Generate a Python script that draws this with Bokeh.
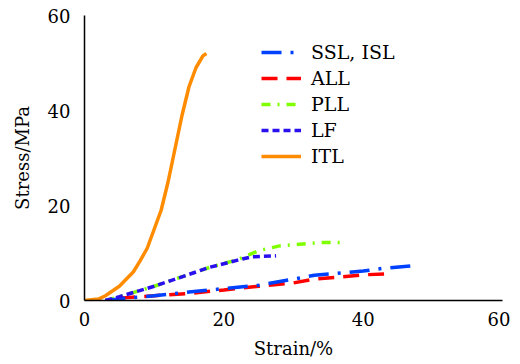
from bokeh.plotting import figure
from bokeh.models import Legend, LegendItem, Range1d, FixedTicker
from bokeh.embed import file_html
from bokeh.resources import INLINE

# Data (strain %, stress MPa)
ssl_x = [3, 6, 10, 15, 20, 25, 30, 33, 37, 40, 43, 47]
ssl_y = [0, 0.5, 1.0, 1.8, 2.5, 3.2, 4.5, 5.3, 5.8, 6.2, 6.8, 7.3]

all_x = [5, 10, 15, 20, 25, 30, 33, 37, 40, 43]
all_y = [0.5, 1.0, 1.5, 2.2, 3.0, 3.7, 4.5, 5.0, 5.4, 5.6]

pll_x = [3, 5, 10, 15, 18, 22, 25, 28, 32, 34, 37]
pll_y = [0, 0.8, 3.0, 5.5, 7.0, 8.6, 10.5, 11.5, 12.0, 12.2, 12.2]

lf_x = [3, 5, 10, 15, 18, 22, 24, 27.5]
lf_y = [0, 0.8, 3.0, 5.5, 7.0, 8.5, 9.2, 9.4]

itl_x = [0, 2, 3, 5, 7, 8, 9, 10, 11, 12, 13, 14, 15, 16, 17, 17.5]
itl_y = [0, 0.3, 1.0, 3.0, 6.0, 8.4, 11, 15, 19, 25, 32, 39, 45, 49, 51.5, 52]

x_ticks = [0, 20, 40, 60]
y_ticks = [0, 20, 40, 60]

FONT = "DejaVu Serif"

p = figure(width=510, height=361, output_backend="svg", toolbar_location=None,
           x_range=Range1d(0, 60), y_range=Range1d(0, 60),
           min_border_left=84, min_border_right=8, min_border_top=15, min_border_bottom=48)
p.outline_line_color = None
p.xgrid.visible = False
p.ygrid.visible = False

for ax in (p.xaxis[0], p.yaxis[0]):
    ax.major_tick_line_color = None
    ax.minor_tick_line_color = None
    ax.axis_line_color = "black"
    ax.axis_line_width = 1.5
    ax.major_label_text_font = FONT
    ax.major_label_text_font_size = "18px"
    ax.major_label_text_color = "black"
    ax.axis_label_text_font = FONT
    ax.axis_label_text_font_size = "18px"
    ax.axis_label_text_font_style = "normal"
    ax.axis_label_text_color = "black"

p.xaxis.ticker = FixedTicker(ticks=x_ticks)
p.yaxis.ticker = FixedTicker(ticks=y_ticks)
p.xaxis.axis_label = "Strain/%"
p.yaxis.axis_label = "Stress/MPa"
p.xaxis.major_label_standoff = 5
p.yaxis.major_label_standoff = 8
p.xaxis.axis_label_standoff = 9
p.yaxis.axis_label_standoff = 12

r_itl = p.line(itl_x, itl_y, line_color="#ff8c00", line_width=3.5)
r_lf = p.line(lf_x, lf_y, line_color="#2a10ee", line_width=3.5, line_dash="7 4")
r_pll = p.line(pll_x, pll_y, line_color="#7fff00", line_width=3.5, line_dash="9 7 2 7")
r_all = p.line(all_x, all_y, line_color="#ff0000", line_width=3.5, line_dash="16 9")
r_ssl = p.line(ssl_x, ssl_y, line_color="#0040ff", line_width=3.5, line_dash="20 9 3 9")
# redraw LF on top of PLL
p.renderers.remove(r_lf)
p.renderers.append(r_lf)

legend = Legend(items=[
    LegendItem(label="SSL, ISL", renderers=[r_ssl]),
    LegendItem(label="ALL", renderers=[r_all]),
    LegendItem(label="PLL", renderers=[r_pll]),
    LegendItem(label="LF", renderers=[r_lf]),
    LegendItem(label="ITL", renderers=[r_itl]),
], location=(177, 133))
legend.border_line_color = None
legend.background_fill_alpha = 0
legend.label_text_font = FONT
legend.label_text_font_size = "19px"
legend.label_text_color = "black"
legend.glyph_width = 40
legend.glyph_height = 20
legend.label_height = 20
legend.spacing = 4
legend.label_standoff = 10
legend.padding = 4
p.add_layout(legend, "center")

open("out.html", "w").write(file_html(p, INLINE))
